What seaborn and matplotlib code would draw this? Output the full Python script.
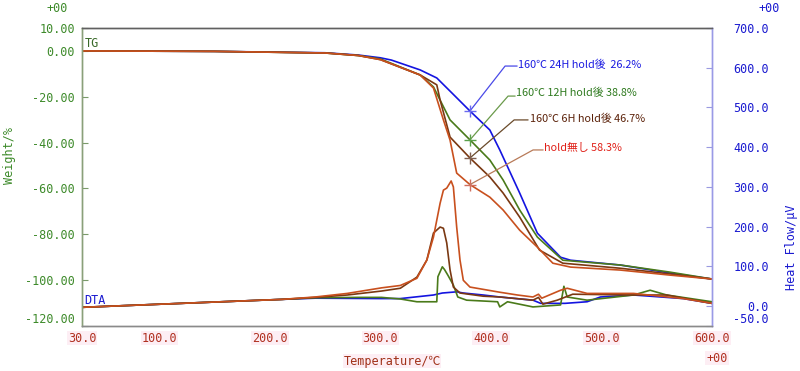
import numpy as np
import pandas as pd
import matplotlib
matplotlib.use("Agg")
import matplotlib.pyplot as plt
import seaborn as sns

# ---------------- data ----------------
series_names = ["160℃ 24H hold後", "160℃ 12H hold後", "160℃ 6H hold後", "hold無し"]
pct_labels = [26.2, 38.8, 46.7, 58.3]
cross_T = 381.0

# TG (weight %)
tg_blue_T = [30, 150, 250, 280, 300, 310, 336, 351, 365, 381, 399, 408, 426, 442, 463, 472, 517, 562, 600]
tg_blue_W = [0, -0.2, -0.8, -1.8, -3.0, -4.0, -8.3, -11.8, -18.5, -26.2, -34.5, -43.2, -62.0, -79.5, -90.0, -91.3, -93.4, -96.9, -99.5]

tg_green_T = [30, 150, 250, 280, 300, 336, 348, 363, 381, 390, 399, 411, 426, 442, 465, 517, 562, 600]
tg_green_W = [0, -0.2, -0.9, -2.0, -3.5, -10.5, -15.7, -30.1, -38.8, -43.2, -47.6, -56.3, -69.4, -81.2, -91.3, -93.4, -96.5, -99.5]

tg_brown_T = [30, 150, 250, 280, 300, 336, 351, 354, 363, 381, 399, 411, 426, 444, 465, 517, 562, 600]
tg_brown_W = [0, -0.2, -0.9, -2.0, -3.8, -10.5, -14.8, -21.4, -37.6, -46.7, -55.0, -62.0, -72.5, -86.9, -92.6, -94.8, -97.3, -99.5]

tg_red_T = [30, 150, 250, 280, 300, 336, 348, 357, 363, 369, 381, 399, 411, 426, 442, 456, 472, 517, 562, 600]
tg_red_W = [0, -0.2, -0.9, -2.0, -3.8, -10.5, -16.2, -30.1, -38.9, -53.3, -58.3, -63.8, -69.4, -78.2, -85.6, -92.6, -94.3, -95.6, -97.8, -99.5]

# DTA (heat flow uV)
dta_blue_T = [30, 120, 211, 241, 300, 318, 348, 356, 369, 375, 393, 408, 438, 445, 467, 487, 499, 529, 574, 600]
dta_blue_H = [-3, 7, 17, 20, 19, 19, 28, 33, 36, 33, 28, 23, 15, 7, 7, 11, 23, 28, 19, 7]

dta_green_T = [30, 120, 211, 241, 280, 301, 318, 333, 351, 352, 356, 358, 361, 366, 370, 378, 406, 408, 415, 438, 463, 466, 469, 487, 529, 544, 559, 600]
dta_green_H = [-3, 7, 17, 21, 22, 22, 18, 11, 11, 74, 99, 92, 78, 53, 23, 15, 11, -2, 11, -2, 3, 50, 23, 15, 28, 40, 28, 11]

dta_brown_T = [30, 120, 211, 241, 270, 301, 318, 333, 342, 348, 354, 357, 360, 363, 366, 372, 393, 408, 438, 443, 447, 460, 474, 529, 559, 600]
dta_brown_H = [-3, 7, 17, 22, 28, 38, 45, 73, 116, 184, 199, 196, 159, 91, 48, 33, 25, 23, 15, 22, 5, 15, 30, 28, 28, 7]

dta_red_T = [30, 120, 211, 241, 270, 301, 318, 333, 342, 348, 354, 357, 360, 364, 366, 369, 372, 375, 381, 408, 424, 438, 443, 446, 463, 469, 487, 529, 574, 600]
dta_red_H = [-3, 7, 17, 23, 32, 46, 52, 70, 116, 174, 259, 292, 297, 315, 300, 199, 116, 65, 48, 35, 28, 23, 30, 20, 40, 45, 32, 32, 19, 7]

x_ticks = [30, 100, 200, 300, 400, 500, 600]
y_ticks = [10, 0, -20, -40, -60, -80, -100, -120]
y2_ticks = [700, 600, 500, 400, 300, 200, 100, 0, -50]

# ---------------- styles ----------------
line_colors = ["#1414e0", "#4a7a1a", "#7a3812", "#c8501e"]
label_colors = ["#1a1ae0", "#2f7a1f", "#5a2008", "#e02018"]
leader_colors = ["#4a4ae8", "#6a9a4a", "#6a4a2a", "#b87a58"]
cross_colors = ["#6a6af0", "#5aa04a", "#806050", "#d07060"]
green_txt = "#3d8a2a"
blue_txt = "#1a1ad0"
red_txt = "#b03020"

sns.set_style("white")
plt.rcParams["font.family"] = ["DejaVu Sans Mono", "Noto Sans CJK JP"]
cjk = ["Noto Sans CJK JP", "DejaVu Sans"]

tg_df = pd.concat([
    pd.DataFrame({"T": t, "W": w, "s": n})
    for t, w, n in zip([tg_blue_T, tg_green_T, tg_brown_T, tg_red_T],
                       [tg_blue_W, tg_green_W, tg_brown_W, tg_red_W], series_names)
])
dta_df = pd.concat([
    pd.DataFrame({"T": t, "H": h, "s": n})
    for t, h, n in zip([dta_blue_T, dta_green_T, dta_brown_T, dta_red_T],
                       [dta_blue_H, dta_green_H, dta_brown_H, dta_red_H], series_names)
])
pal = dict(zip(series_names, line_colors))

W, H = 800, 371
fig = plt.figure(figsize=(W / 100, H / 100), dpi=100)
ax = fig.add_axes([82 / W, 1 - 326 / H, 630 / W, 298 / H])
ax2 = ax.twinx()

sns.lineplot(data=dta_df, x="T", y="H", hue="s", palette=pal, estimator=None,
             sort=False, legend=False, lw=1.2, ax=ax2)
sns.lineplot(data=tg_df, x="T", y="W", hue="s", palette=pal, estimator=None,
             sort=False, legend=False, lw=1.2, ax=ax)

ax.set_xlim(30, 600)
ax.set_ylim(-120, 10)
ax2.set_ylim(-50, 700)

ax.set_xticks(x_ticks)
ax.set_xticklabels([f"{v:.1f}" for v in x_ticks])
ax.set_yticks(y_ticks)
ax.set_yticklabels([f"{v:.2f}" for v in y_ticks])
ax2.set_yticks(y2_ticks)
ax2.set_yticklabels([f"{v:.1f}" for v in y2_ticks])

ax.tick_params(axis="x", direction="in", length=4, color="#808080", labelcolor=red_txt,
               labelsize=8.5, pad=4)
ax.tick_params(axis="y", direction="in", length=4, color="#7a9a6a", labelcolor=green_txt,
               labelsize=8.5, pad=5)
ax2.tick_params(axis="y", direction="in", length=4, color="#9a9ae0", labelcolor=blue_txt,
                labelsize=8.5, pad=41)
for lab in ax2.get_yticklabels():
    lab.set_horizontalalignment("right")
ax.get_yticklabels()[-1].set_verticalalignment("bottom")
ax2.get_yticklabels()[-1].set_verticalalignment("bottom")
for lab in ax.get_xticklabels():
    lab.set_bbox(dict(facecolor="#fdeef4", edgecolor="none", pad=0.6))

ax.set_xlabel("")
ax.set_ylabel("")
ax2.set_ylabel("")

for a in (ax, ax2):
    a.spines["top"].set_color("#606060")
    a.spines["left"].set_color("#8aa07a")
    a.spines["right"].set_color("#9a9ae6")
    a.spines["bottom"].set_color("#8a8a8a")
    for s in a.spines.values():
        s.set_linewidth(1.0)

# crosses and leader labels
elbows = [(412.8, -6.6, 423.7), (415.5, -19.7, 421.9), (421.0, -30.1, 433.6), (438.1, -43.2, 447.2)]
text_pos = [(424.5, -5.9), (423.0, -18.3), (435.0, -29.6), (448.3, -42.5)]
for i, name in enumerate(series_names):
    cy = -pct_labels[i]
    ex, ey, hx = elbows[i]
    ax.plot([cross_T, ex, hx], [cy, ey, ey], color=leader_colors[i], lw=0.9, zorder=4)
    ax.scatter([cross_T], [cy], marker="+", s=80, color=cross_colors[i], linewidths=1.0, zorder=5)
    tx, ty = text_pos[i]
    gap = "  " if i == 0 else " "
    ax.text(tx, ty, f"{name}{gap}{pct_labels[i]}%", color=label_colors[i], fontsize=7.8,
            family=cjk, va="center", ha="left", zorder=6)

ax.text(0.004, (0 + 120) / 130 + 0.025, "TG", transform=ax.transAxes, color="#3a6a2a",
        fontsize=8.5, va="center", ha="left")
ax.text(0.004, (306 - 28) and 1 - (301 - 28) / 298, "DTA", transform=ax.transAxes,
        color="#1a1ad0", fontsize=8.5, va="center", ha="left")

fig.text(57 / W, 1 - 9 / H, "+00", color=green_txt, fontsize=8.5, ha="center", va="center")
fig.text(780 / W, 1 - 9 / H, "+00", color=blue_txt, fontsize=8.5, ha="right", va="center")
fig.text(717 / W, 1 - 358 / H, "+00", color=red_txt, fontsize=8.5, ha="center", va="center",
         bbox=dict(facecolor="#fdeef4", edgecolor="none", pad=0.6))
fig.text(10 / W, 1 - 155 / H, "Weight/%", color=green_txt, fontsize=8.5, rotation=90,
         ha="center", va="center")
fig.text(791 / W, 1 - 247 / H, "Heat Flow/μV", color=blue_txt, fontsize=8.5, rotation=90,
         ha="center", va="center")
fig.text(392 / W, 1 - 361 / H, "Temperature/℃", color="#a03018", fontsize=8.5,
         ha="center", va="center", bbox=dict(facecolor="#fdeef4", edgecolor="none", pad=0.6))

fig.savefig("out.png", dpi=100)
